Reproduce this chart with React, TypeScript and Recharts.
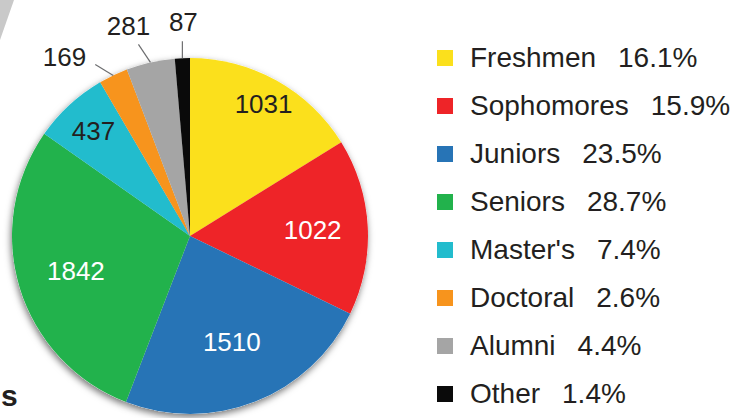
import { PieChart, Pie, Cell, Legend } from 'recharts'

const NAMES = ['Freshmen', 'Sophomores', 'Juniors', 'Seniors', "Master's", 'Doctoral', 'Alumni', 'Other']
const COUNTS = [1031, 1022, 1510, 1842, 437, 169, 281, 87]
const PERCENTS = ['16.1%', '15.9%', '23.5%', '28.7%', '7.4%', '2.6%', '4.4%', '1.4%']

const COLORS = ['#fbe01c', '#ee2428', '#2774b6', '#22b24c', '#22bccd', '#f7941d', '#a5a5a5', '#0a0a0a']
const TEXT = '#231f20'
const LABEL_FILL = [TEXT, '#fff', '#fff', '#fff', TEXT]
// inside label distance from centre, as a share of the radius
const LABEL_R = [0.85, 0.69, 0.64, 0.67, 0.8]
// leader line + text offsets for the thin slices
const OUTSIDE: Record<number, { dx: number; dy: number; tx: number; ty: number; anchor: 'end' | 'middle' }> = {
  5: { dx: -18, dy: -11, tx: -9, ty: -7, anchor: 'end' },
  6: { dx: -12, dy: -18, tx: -10, ty: -18, anchor: 'middle' },
  7: { dx: 0, dy: -17, tx: 1, ty: -19, anchor: 'middle' },
}

const data = NAMES.map((name, i) => ({ name, value: COUNTS[i] }))
const RAD = Math.PI / 180
const FONT = '"Liberation Sans", Arial, Helvetica, sans-serif'

function renderLabel(props: any) {
  const { cx, cy, midAngle, outerRadius, index, value } = props
  const cos = Math.cos(-midAngle * RAD)
  const sin = Math.sin(-midAngle * RAD)
  const out = OUTSIDE[index]
  if (out) {
    const x0 = cx + outerRadius * cos
    const y0 = cy + outerRadius * sin
    const x1 = x0 + out.dx
    const y1 = y0 + out.dy
    return (
      <g key={`l${index}`}>
        <line x1={x0} y1={y0} x2={x1} y2={y1} stroke="#6d6e70" strokeWidth={1.2} />
        <text x={x1 + out.tx} y={y1 + out.ty} fill={TEXT} fontSize={26} fontFamily={FONT}
          textAnchor={out.anchor} dominantBaseline="central">{value}</text>
      </g>
    )
  }
  const r = outerRadius * LABEL_R[index]
  return (
    <text key={`l${index}`} x={cx + r * cos} y={cy + r * sin} fill={LABEL_FILL[index]} fontSize={26}
      fontFamily={FONT} textAnchor="middle" dominantBaseline="central">{value}</text>
  )
}

function renderLegend() {
  return (
    <div style={{ fontFamily: FONT, fontSize: 28, color: TEXT }}>
      {NAMES.map((name, i) => (
        <div key={name} style={{ height: 48, display: 'flex', alignItems: 'center', whiteSpace: 'nowrap' }}>
          <span style={{ width: 16, height: 16, background: COLORS[i], marginRight: 17, flexShrink: 0 }} />
          <span>{name}</span>
          <span style={{ marginLeft: 22 }}>{PERCENTS[i]}</span>
        </div>
      ))}
    </div>
  )
}

export default function App() {
  return (
    <div style={{ position: 'relative', width: 734, height: 418, background: '#fff', overflow: 'hidden' }}>
      <style>{'body{margin:0}'}</style>
      <PieChart width={734} height={418} margin={{ top: 0, right: 0, bottom: 0, left: 0 }}>
        <defs>
          <filter id="pieShadow" x="-20%" y="-20%" width="140%" height="140%">
            <feDropShadow dx={-1} dy={3} stdDeviation={3.5} floodColor="#000" floodOpacity={0.55} />
          </filter>
        </defs>
        {/* shadow layer under the real slices */}
        <Pie data={data} dataKey="value" cx={190} cy={236} outerRadius={178} startAngle={90} endAngle={-270}
          stroke="none" isAnimationActive={false} legendType="none">
          {data.map((_, i) => <Cell key={i} fill="#fff" filter="url(#pieShadow)" />)}
        </Pie>
        <Pie data={data} dataKey="value" cx={190} cy={236} outerRadius={178} startAngle={90} endAngle={-270}
          stroke="none" isAnimationActive={false} label={renderLabel} labelLine={false}>
          {data.map((_, i) => <Cell key={i} fill={COLORS[i]} />)}
        </Pie>
        <Legend content={renderLegend} layout="vertical"
          wrapperStyle={{ position: 'absolute', left: 437, top: 34, width: 297 }} />
      </PieChart>
      {/* cropped page leftovers */}
      <svg width={734} height={418} style={{ position: 'absolute', left: 0, top: 0, pointerEvents: 'none' }}>
        <polygon points="0,0 14,0 0,40" fill="#c9c9c9" />
        <text x={1} y={406} fontFamily={FONT} fontSize={30} fontWeight="bold" fill={TEXT}>s</text>
      </svg>
    </div>
  )
}
